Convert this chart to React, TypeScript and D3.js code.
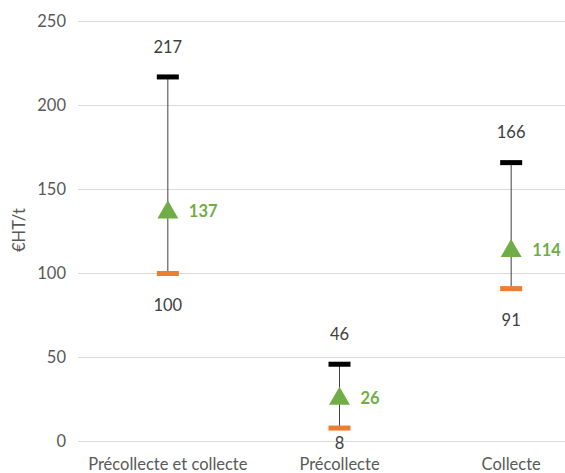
import React from "react";
import * as d3 from "d3";

const categories = ["Précollecte et collecte", "Précollecte", "Collecte"];
const maxValues = [217, 46, 166];
const meanValues = [137, 26, 114];
const minValues = [100, 8, 91];
const yTicks = [0, 50, 100, 150, 200, 250];

const W = 565;
const H = 473;
const FONT = "Lato, 'Open Sans', sans-serif";
const FS = 16.5;

export default function App() {
  const x = d3.scaleBand<string>().domain(categories).range([82, 597]);
  const y = d3.scaleLinear().domain([0, 250]).range([441.5, 21.5]);
  const cx = (c: string) => (x(c) as number) + x.bandwidth() / 2;
  const tri = d3.symbol().type(d3.symbolTriangle).size(190);

  return (
    <svg width={W} height={H} style={{ position: "absolute", left: 0, top: 0 }}>
      <rect width={W} height={H} fill="#fff" />
      {yTicks.map((t) => (
        <g key={t}>
          <line x1={78} x2={W} y1={y(t)} y2={y(t)} stroke="#d9d9d9" strokeWidth={1} />
          <text x={66} y={y(t)} dy="0.35em" textAnchor="end" fontFamily={FONT} fontSize={FS} fill="#595959">
            {t}
          </text>
        </g>
      ))}
      <text
        transform={`translate(19,230) rotate(-90)`}
        textAnchor="middle"
        dy="0.35em"
        fontFamily={FONT}
        fontSize={FS}
        fill="#595959"
      >
        €HT/t
      </text>
      {categories.map((c, i) => {
        const px = cx(c);
        const minLabelY = Math.min(y(minValues[i]) + 32, y(0) + 2);
        return (
          <g key={c}>
            <line x1={px} x2={px} y1={y(maxValues[i])} y2={y(minValues[i])} stroke="#404040" strokeWidth={1} />
            <rect x={px - 11} y={y(maxValues[i]) - 2.5} width={22} height={5} fill="#000" />
            <rect x={px - 11} y={y(minValues[i]) - 2.5} width={22} height={5} fill="#ED7D31" />
            <path d={tri() as string} transform={`translate(${px},${y(meanValues[i]) + 1})`} fill="#70AD47" />
            <text x={px} y={y(maxValues[i]) - 30} dy="0.35em" textAnchor="middle" fontFamily={FONT} fontSize={FS} fill="#404040">
              {maxValues[i]}
            </text>
            <text x={px} y={minLabelY} dy="0.35em" textAnchor="middle" fontFamily={FONT} fontSize={FS} fill="#404040">
              {minValues[i]}
            </text>
            <text x={px + 21} y={y(meanValues[i])} dy="0.35em" textAnchor="start" fontFamily={FONT} fontSize={FS} fontWeight="bold" fill="#70AD47">
              {meanValues[i]}
            </text>
            <text x={px} y={464} dy="0.35em" textAnchor="middle" fontFamily={FONT} fontSize={FS} fill="#595959">
              {c}
            </text>
          </g>
        );
      })}
    </svg>
  );
}
